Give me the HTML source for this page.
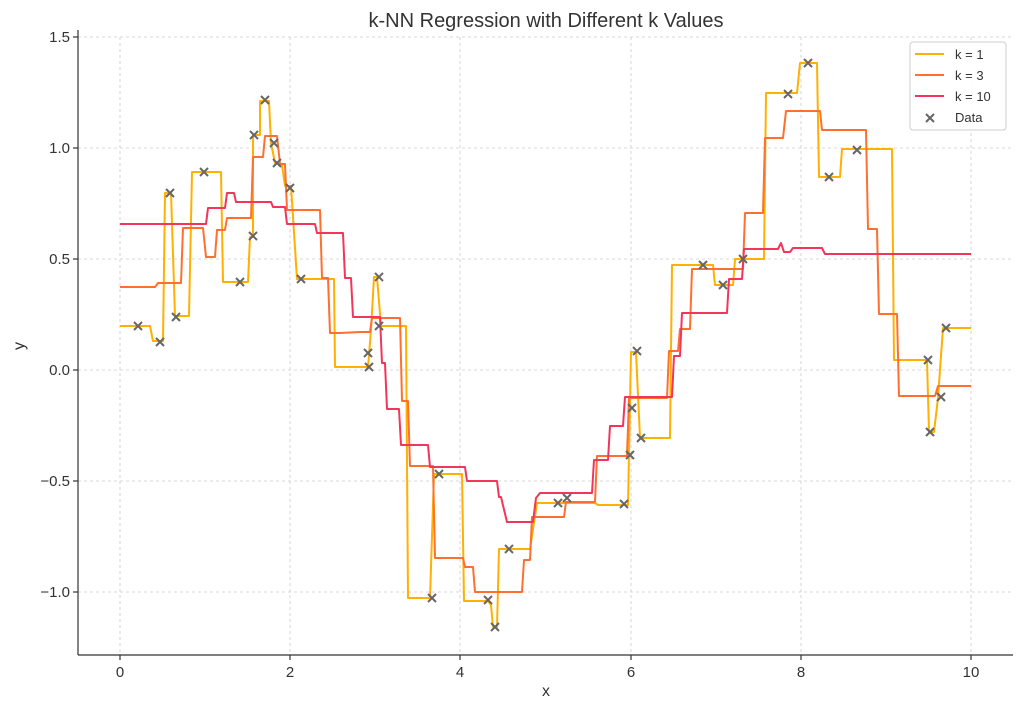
<!DOCTYPE html>
<html><head><meta charset="utf-8"><style>
body{margin:0;background:#fff;}
text{font-family:"Liberation Sans","DejaVu Sans",sans-serif;fill:#333;}
</style></head><body>
<svg width="1024" height="709" viewBox="0 0 1024 709" xmlns="http://www.w3.org/2000/svg">
<rect width="1024" height="709" fill="#fff"/>
<text x="546" y="27" font-size="20" text-anchor="middle">k-NN Regression with Different k Values</text>
<g stroke="#cccccc" stroke-width="0.8" stroke-dasharray="3,3">
<line x1="120" y1="37" x2="120" y2="655"/><line x1="290" y1="37" x2="290" y2="655"/><line x1="460" y1="37" x2="460" y2="655"/><line x1="631" y1="37" x2="631" y2="655"/><line x1="801" y1="37" x2="801" y2="655"/><line x1="971" y1="37" x2="971" y2="655"/>
<line x1="78" y1="37" x2="1013" y2="37"/><line x1="78" y1="148" x2="1013" y2="148"/><line x1="78" y1="259" x2="1013" y2="259"/><line x1="78" y1="370" x2="1013" y2="370"/><line x1="78" y1="481" x2="1013" y2="481"/><line x1="78" y1="592" x2="1013" y2="592"/>
</g>
<g stroke="#333" stroke-width="1.2">
<line x1="78" y1="30" x2="78" y2="655"/><line x1="78" y1="655" x2="1013" y2="655"/>
<line x1="120" y1="655" x2="120" y2="660"/><line x1="290" y1="655" x2="290" y2="660"/><line x1="460" y1="655" x2="460" y2="660"/><line x1="631" y1="655" x2="631" y2="660"/><line x1="801" y1="655" x2="801" y2="660"/><line x1="971" y1="655" x2="971" y2="660"/>
<line x1="73" y1="37" x2="78" y2="37"/><line x1="73" y1="148" x2="78" y2="148"/><line x1="73" y1="259" x2="78" y2="259"/><line x1="73" y1="370" x2="78" y2="370"/><line x1="73" y1="481" x2="78" y2="481"/><line x1="73" y1="592" x2="78" y2="592"/>
</g>
<g font-size="15" text-anchor="middle">
<text x="120" y="677">0</text><text x="290" y="677">2</text><text x="460" y="677">4</text><text x="631" y="677">6</text><text x="801" y="677">8</text><text x="971" y="677">10</text>
</g>
<g font-size="15" text-anchor="end">
<text x="70" y="42">1.5</text><text x="70" y="153">1.0</text><text x="70" y="264">0.5</text><text x="70" y="375">0.0</text><text x="70" y="486">−0.5</text><text x="70" y="597">−1.0</text>
</g>
<text x="546" y="696" font-size="16" text-anchor="middle">x</text>
<text x="24" y="346" font-size="16" text-anchor="middle" transform="rotate(-90 24 346)">y</text>
<g fill="none" stroke-width="2" stroke-linejoin="round">
<polyline stroke="#ffb000" points="120,326 150,326 153,341 163,341 165,193 171,193 175,316 189,316 192,172 221,172 223,282 248,282 250,237 253,237 253,135 260,135 260,101 269,101 271,143 275,163 282,165 285,186 291,186 297,279 334,279 335,367 368,367 371,330 374,277 377,277 381,326 406,326 408,598 430,598 434,474 462,474 464,601 488,601 491,605 493,627 497,627 499,549 530,549 537,503 595,503 598,505 628,505 631,352 636,352 640,438 670,438 672,265 713,265 715,285 733,285 735,259 764,259 766,93 797,93 800,63 817,63 819,177 840,177 842,149 892,149 894,360 927,360 929,432 934,432 938,398 943,328 971,328"/>
<polyline stroke="#ff6f2f" points="120,287 155,287 158,283 181,283 183,228 203,228 206,257 215,257 217,230 225,230 227,218 251,218 253,157 263,157 265,136 277,136 280,164 285,164 287,210 320,210 322,278 328,278 330,333 340,333 360,332 370,332 372,318 400,318 402,401 408,401 410,466 433,466 435,558 463,558 465,567 473,567 475,592 522,592 524,560 530,560 532,517 564,517 566,502 595,502 597,456 627,456 629,398 667,398 669,351 678,351 680,329 690,329 692,269 743,269 745,213 763,213 765,138 783,138 786,111 820,111 822,130 866,130 868,229 877,229 879,314 897,314 899,396 935,396 938,386 971,386"/>
<polyline stroke="#f2355b" points="120,224 206,224 208,208 225,208 227,193 234,193 236,202 271,202 273,207 285,207 287,224 315,224 317,233 343,233 345,278 351,278 353,317 380,317 382,363 385,363 387,409 399,409 401,445 428,445 430,467 465,467 467,481 497,481 499,497 501,497 507,522 533,522 536,498 540,493 592,493 594,460 608,460 610,426 623,426 625,397 672,397 674,356 680,356 682,313 727,313 729,279 742,279 744,249 778,249 781,243 784,252 790,252 793,248 822,248 825,254 971,254"/>
</g>
<g stroke="#666" stroke-width="2">
<path d="M134,322l8,8M134,330l8,-8 M156,338l8,8M156,346l8,-8 M166,189l8,8M166,197l8,-8 M172,313l8,8M172,321l8,-8 M200,168l8,8M200,176l8,-8 M236,278l8,8M236,286l8,-8 M249,232l8,8M249,240l8,-8 M250,131l8,8M250,139l8,-8 M261,96l8,8M261,104l8,-8 M270,139l8,8M270,147l8,-8 M273,159l8,8M273,167l8,-8 M286,184l8,8M286,192l8,-8 M297,275l8,8M297,283l8,-8 M364,349l8,8M364,357l8,-8 M365,363l8,8M365,371l8,-8 M375,273l8,8M375,281l8,-8 M375,322l8,8M375,330l8,-8 M428,594l8,8M428,602l8,-8 M435,470l8,8M435,478l8,-8 M484,596l8,8M484,604l8,-8 M491,623l8,8M491,631l8,-8 M505,545l8,8M505,553l8,-8 M554,499l8,8M554,507l8,-8 M563,494l8,8M563,502l8,-8 M620,500l8,8M620,508l8,-8 M626,451l8,8M626,459l8,-8 M628,404l8,8M628,412l8,-8 M633,347l8,8M633,355l8,-8 M637,434l8,8M637,442l8,-8 M699,261l8,8M699,269l8,-8 M719,281l8,8M719,289l8,-8 M739,255l8,8M739,263l8,-8 M784,90l8,8M784,98l8,-8 M804,59l8,8M804,67l8,-8 M825,173l8,8M825,181l8,-8 M853,146l8,8M853,154l8,-8 M924,356l8,8M924,364l8,-8 M926,428l8,8M926,436l8,-8 M937,393l8,8M937,401l8,-8 M942,324l8,8M942,332l8,-8"/>
</g>
<rect x="910" y="42" width="96" height="88" rx="3" fill="#fff" fill-opacity="0.9" stroke="#ccc"/>
<g stroke-width="2">
<line x1="915" y1="54" x2="944" y2="54" stroke="#ffb000"/>
<line x1="915" y1="75" x2="944" y2="75" stroke="#ff6f2f"/>
<line x1="915" y1="96" x2="944" y2="96" stroke="#f2355b"/>
<path d="M926,114l8,8M926,122l8,-8" stroke="#666"/>
</g>
<g font-size="13">
<text x="955" y="59">k = 1</text><text x="955" y="80">k = 3</text><text x="955" y="101">k = 10</text><text x="955" y="122">Data</text>
</g>
</svg>
</body></html>
